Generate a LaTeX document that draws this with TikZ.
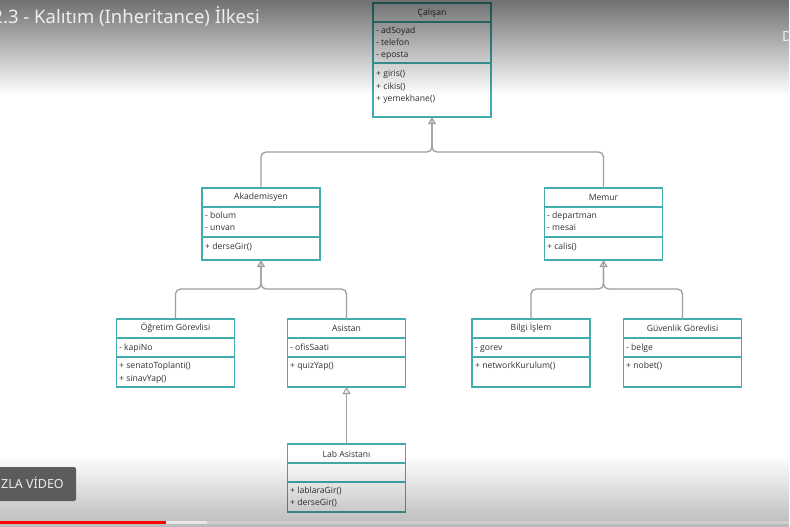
\documentclass[tikz,border=0pt]{standalone}
\usepackage{fontspec}
\setmainfont{Open Sans}
\newfontfamily\ytfont{Noto Sans}
\usetikzlibrary{arrows.meta,fadings}
\definecolor{tealline}{RGB}{67,172,172}
\definecolor{linegray}{RGB}{158,158,158}
\definecolor{txtdark}{RGB}{50,50,50}
\definecolor{btngray}{RGB}{92,92,92}
\tikzfading[name=ytfadedown, top color=transparent!0, bottom color=transparent!100]
\tikzfading[name=ytfadeup, top color=transparent!100, bottom color=transparent!0]
\tikzset{
  cls/.style={draw=tealline, line width=1.2pt, fill=white, inner sep=0pt, outer sep=0pt, minimum width=118pt},
  divider/.style={draw=tealline, line width=1.2pt},
  ctitle/.style={font=\fontsize{8.6}{10}\selectfont, text=txtdark, inner sep=0pt},
  mem/.style={font=\fontsize{8.6}{10}\selectfont, text=txtdark, anchor=base west, inner sep=0pt},
  link/.style={draw=linegray, line width=1.3pt, rounded corners=5pt},
  inh/.style={-{Triangle[open, width=8pt, length=7pt, line width=1.1pt]}},
}
\begin{document}
\begin{tikzpicture}[x=1pt,y=-1pt]
\useasboundingbox (0,0) rectangle (790,527);
\clip (0,0) rectangle (790,527);
\fill[white] (0,0) rectangle (790,527);

% ---- classes ----
\node[cls, minimum height=114pt] (calisan) at (432,60) {};
\draw[divider] (calisan.west |- 0,22) -- (calisan.east |- 0,22);
\draw[divider] (calisan.west |- 0,63) -- (calisan.east |- 0,63);
\node[ctitle] (calisanT) at (432,13) {Çalışan};
\node[mem] (c1) at (376,34) {- adSoyad};
\node[mem] (c2) at (376,46) {- telefon};
\node[mem] (c3) at (376,58) {- eposta};
\node[mem] (c4) at (376,77) {+ giris()};
\node[mem] (c5) at (376,89) {+ cikis()};
\node[mem] (c6) at (376,101) {+ yemekhane()};

\node[cls, minimum height=72pt] (akad) at (261,224) {};
\draw[divider] (akad.west |- 0,207) -- (akad.east |- 0,207);
\draw[divider] (akad.west |- 0,237) -- (akad.east |- 0,237);
\node[ctitle] (akadT) at (261,197) {Akademisyen};
\node[mem] (a1) at (205,218) {- bolum};
\node[mem] (a2) at (205,230.5) {- unvan};
\node[mem] (a3) at (205,249) {+ derseGir()};

\node[cls, minimum height=72pt] (memur) at (603.5,224) {};
\draw[divider] (memur.west |- 0,207) -- (memur.east |- 0,207);
\draw[divider] (memur.west |- 0,237) -- (memur.east |- 0,237);
\node[ctitle] (memurT) at (603.5,197) {Memur};
\node[mem] (m1) at (547,218) {- departman};
\node[mem] (m2) at (547,230.5) {- mesai};
\node[mem] (m3) at (547,249) {+ calis()};

\node[cls, minimum height=68pt] (ogr) at (175.5,353) {};
\draw[divider] (ogr.west |- 0,338) -- (ogr.east |- 0,338);
\draw[divider] (ogr.west |- 0,357) -- (ogr.east |- 0,357);
\node[ctitle] (ogrT) at (175.5,328) {Öğretim Görevlisi};
\node[mem] (o1) at (119,350.5) {- kapiNo};
\node[mem] (o2) at (119,368.5) {+ senatoToplanti()};
\node[mem] (o3) at (119,381) {+ sinavYap()};

\node[cls, minimum height=68pt] (asis) at (346.5,353) {};
\draw[divider] (asis.west |- 0,338) -- (asis.east |- 0,338);
\draw[divider] (asis.west |- 0,357) -- (asis.east |- 0,357);
\node[ctitle] (asisT) at (346.5,328) {Asistan};
\node[mem] (s1) at (290,350.5) {- ofisSaati};
\node[mem] (s2) at (290,368.5) {+ quizYap()};

\node[cls, minimum height=68pt] (bilgi) at (531,353) {};
\draw[divider] (bilgi.west |- 0,338) -- (bilgi.east |- 0,338);
\draw[divider] (bilgi.west |- 0,357) -- (bilgi.east |- 0,357);
\node[ctitle] (bilgiT) at (531,328) {Bilgi İşlem};
\node[mem] (b1) at (475,350.5) {- gorev};
\node[mem] (b2) at (475,368.5) {+ networkKurulum()};

\node[cls, minimum height=68pt] (guv) at (682.5,353) {};
\draw[divider] (guv.west |- 0,338) -- (guv.east |- 0,338);
\draw[divider] (guv.west |- 0,357) -- (guv.east |- 0,357);
\node[ctitle] (guvT) at (682.5,328) {Güvenlik Görevlisi};
\node[mem] (g1) at (626,350.5) {- belge};
\node[mem] (g2) at (626,368.5) {+ nobet()};

\node[cls, minimum height=68pt] (lab) at (346.5,478) {};
\draw[divider] (lab.west |- 0,463) -- (lab.east |- 0,463);
\draw[divider] (lab.west |- 0,482) -- (lab.east |- 0,482);
\node[ctitle] (labT) at (346.5,454) {Lab Asistanı};
\node[mem] (l1) at (290,493) {+ lablaraGir()};
\node[mem] (l2) at (290,505.5) {+ derseGir()};

% ---- inheritance connectors ----
\coordinate (j1) at (432,152);
\coordinate (j2) at (261,289);
\coordinate (j3) at (603.5,289);
\draw[link] (akad.north) |- (j1) -- (calisan.south);
\draw[link, inh] (memur.north) |- (j1) -- (calisan.south);
\draw[link] (ogr.north) |- (j2) -- (akad.south);
\draw[link, inh] (asis.north) |- (j2) -- (akad.south);
\draw[link] (bilgi.north) |- (j3) -- (memur.south);
\draw[link, inh] (guv.north) |- (j3) -- (memur.south);
\draw[link, inh] (lab.north) -- (asis.south);

% ---- video overlay ----
\fill[black, fill opacity=0.56, path fading=ytfadedown] (0,0) rectangle (790,95);
\fill[black, fill opacity=0.27, path fading=ytfadeup] (0,455) rectangle (790,527);
\node[anchor=base east, inner sep=0pt, text={rgb,255:red,238;green,238;blue,238},
      font=\ytfont\fontsize{18.5}{22}\selectfont] (title) at (260,24) {2.3 - Kalıtım (Inheritance) İlkesi};
\node[anchor=base west, inner sep=0pt, text={rgb,255:red,238;green,238;blue,238},
      font=\ytfont\fontsize{14}{16}\selectfont] (dchar) at (782,42) {D};
\fill[btngray, rounded corners=2pt] (-6,467) rectangle (76,501);
\node[anchor=base west, inner sep=0pt, text={rgb,255:red,235;green,235;blue,235},
      font=\ytfont\fontsize{12.5}{14}\selectfont] (btn) at (1,488) {ZLA VİDEO};
\fill[white, fill opacity=0.25] (0,521) rectangle (790,524);
\fill[white, fill opacity=0.5] (166,521) rectangle (207,524);
\fill[red] (0,521) rectangle (166,524);
\end{tikzpicture}
\end{document}
